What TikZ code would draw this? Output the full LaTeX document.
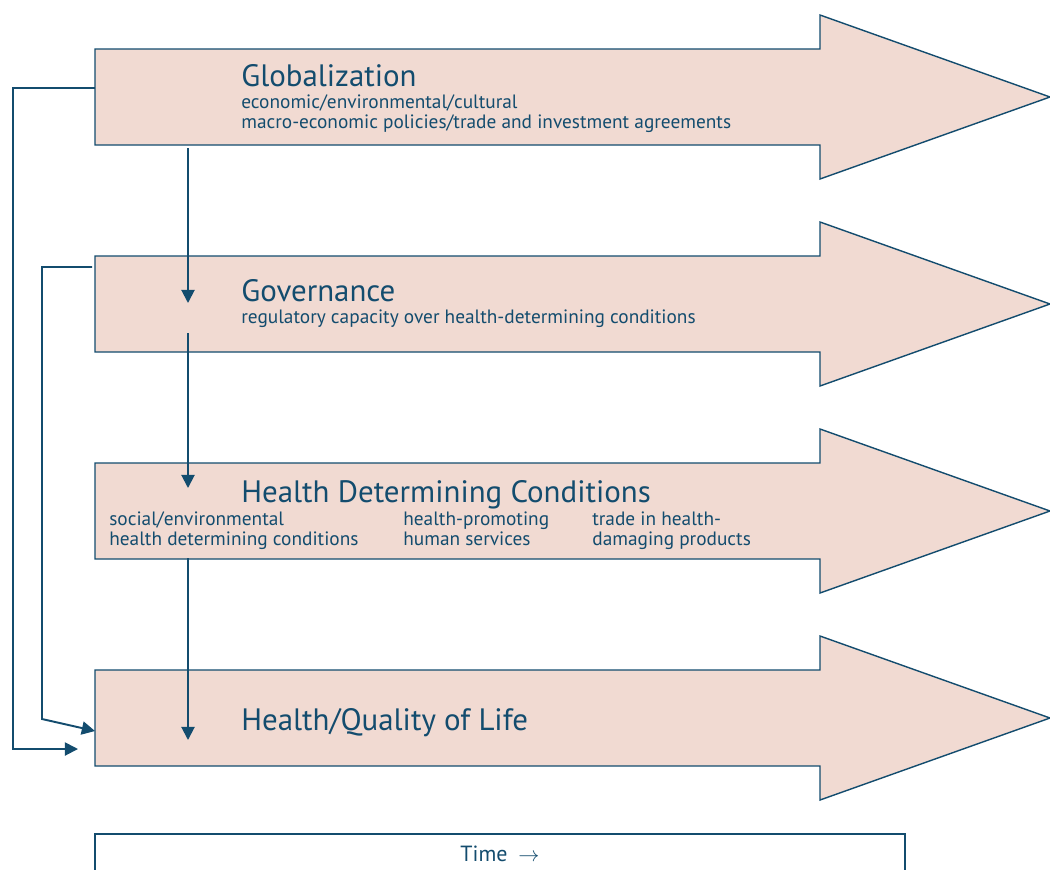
\documentclass[tikz,border=0pt]{standalone}
\usepackage{fontspec}
\setmainfont{PT Sans}
\usetikzlibrary{positioning,arrows.meta}
\definecolor{bandfill}{HTML}{F1DAD2}
\definecolor{ink}{HTML}{134C6E}

\begin{document}
\begin{tikzpicture}[x=0.02cm,y=-0.02cm,>={Triangle[length=7.5pt,width=7.5pt]},
  band/.style={draw=ink,fill=bandfill,line width=0.8pt},
  link/.style={draw=ink,line width=1.1pt,->},
  title/.style={text=ink,font=\fontsize{17.6}{20}\selectfont,inner sep=0pt,anchor=base west},
  sub/.style={text=ink,font=\fontsize{11}{11.3}\selectfont,inner sep=0pt,align=left,anchor=base west}]
\useasboundingbox (0,0) rectangle (1050,869);

% four block arrows, one per level
\foreach \y in {0,207,414,621}
  \draw[band] (95,49+\y) -- (820,49+\y) -- (820,15+\y) -- (1050,97+\y)
    -- (820,179+\y) -- (820,145+\y) -- (95,145+\y) -- cycle;

% level titles
\node[title] (glob) at (241,86) {Globalization};
\node[title] (gov) at (241,301) {Governance};
\node[title] (hdc) at (241,502) {Health Determining Conditions};
\node[title] (hql) at (241,730) {Health/Quality of Life};

% level details (base = last line)
\node[sub] (globsub) at (241,128) {economic/environmental/cultural\\macro-economic policies/trade and investment agreements};
\node[sub] (govsub) at (241,323) {regulatory capacity over health-determining conditions};
\node[sub] (hdc1) at (109,545) {social/environmental\\health determining conditions};
\node[sub] (hdc2) at (403,545) {health-promoting\\human services};
\node[sub] (hdc3) at (592,545) {trade in health-\\damaging products};

% ends of the connectors
\coordinate (glob-out) at (188,148);
\coordinate (gov-in) at (188,303);
\coordinate (gov-out) at (188,333);
\coordinate (hdc-in) at (188,488);
\coordinate (hdc-out) at (188,558);
\coordinate (hql-in) at (188,740);
\coordinate (glob-left) at (95,88);
\coordinate (gov-left) at (92,267);
\coordinate (hql-left1) at (78,749);
\coordinate (hql-left2) at (95,731);

\draw[link] (glob-out) -- (gov-in);
\draw[link] (gov-out) -- (hdc-in);
\draw[link] (hdc-out) -- (hql-in);
\draw[link] (glob-left) -| (13,749) -- (hql-left1);
\draw[link] (gov-left) -| (42,719) -- (hql-left2);

% time axis
\node[text=ink,font=\fontsize{12.5}{14}\selectfont,inner sep=0pt,anchor=base] (time) at (500,861) {Time\enspace$\rightarrow$};
\draw[ink,line width=0.6pt] (95,875) |- (905,834) -- (905,875);
\end{tikzpicture}
\end{document}
